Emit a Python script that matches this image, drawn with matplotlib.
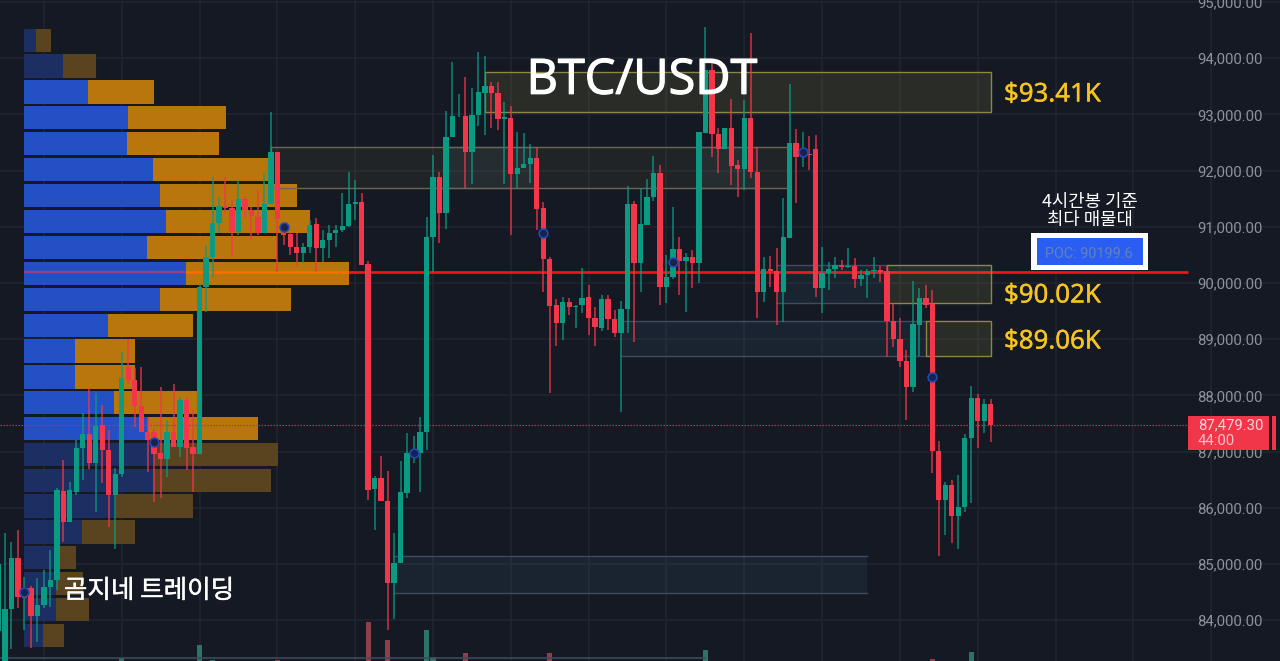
import matplotlib
matplotlib.use("Agg")
import matplotlib.pyplot as plt
from matplotlib.patches import Rectangle
import matplotlib.patheffects as pe

# ---------- candles ----------
opens = [83800,83250,84200,85100,84400,84570,84070,84270,84590,84720,86300,85750,86280,87070,87310,86800,87470,87030,86230,86600,
 88500,88270,87810,87350,87350,86980,86870,87350,87080,87910,87080,86960,89930,90460,91060,91370,91330,90900,91490,91300,
 91180,90890,91410,92330,90900,90870,90640,90530,90640,91050,90620,90770,90890,90940,91010,91410,91440,90340,86340,86530,
 86120,84660,85020,86260,86980,86980,87350,90820,91890,91250,92600,92970,92970,92330,92990,93380,93500,93380,92920,92940,
 91940,92050,92120,92230,91340,90430,89610,89290,89660,89570,89600,89750,89380,89200,89720,89360,89110,89540,91410,90360,
 91030,91530,91950,89930,90110,90600,90390,90460,90360,92670,93790,92650,92380,92750,92100,92030,92940,91980,89840,90250,
 90210,89840,90800,92490,92240,92300,92380,89910,90180,90250,90320,90280,90300,90070,90140,90210,90230,90210,89320,89000,
 88610,88150,89250,89730,89630,87010,86140,86410,85860,86010,87240,87950,87540,87840]
highs = [85900,85550,85400,85600,84770,84600,84750,84890,85250,86350,86850,86460,87210,87680,88130,88040,87830,87380,86700,88770,
 89000,88490,88500,87600,87400,88150,87560,88200,87970,87950,87740,90000,90680,91890,91530,91880,91480,91830,91530,91350,
 91650,91960,93040,92330,91000,90900,90890,90710,91120,91150,90940,91030,91030,91600,91980,91830,91600,90390,86560,86920,
 86650,85550,86830,87330,87280,87620,91170,92280,91970,93060,93930,93360,93670,93470,94110,94040,93580,93580,93220,93150,
 92690,92670,92470,92420,91440,90460,89720,89750,89730,89600,90270,89960,89570,89790,89790,89520,89680,91730,91460,91690,
 91850,92260,92100,90500,91350,90820,90530,90590,90850,94560,93930,92750,92750,93270,92190,93250,94450,92420,90460,90480,
 90620,91510,93550,92740,92690,92620,92630,90640,90370,90460,90410,90620,90440,90230,90250,90460,90300,90320,89640,89380,
 88810,90040,89910,89960,89870,87190,86460,86490,86580,87310,88170,88030,87930,87930]
lows = [83500,83200,83480,84210,83830,83500,83610,84210,84230,84530,85390,85750,86230,86490,86690,85920,86440,85660,85260,86550,
 88200,87440,87350,86640,86100,86170,86550,87080,86900,86670,86280,86960,89480,90110,90890,91250,90460,90850,91150,90770,
 90850,90890,91410,90200,90680,90500,90290,90350,90530,90200,90370,90440,90640,90910,91000,91120,90320,86140,85610,86120,
 83830,84020,85020,86170,86800,86280,87030,90200,90710,90970,92600,92950,91690,91760,92790,92630,92750,92720,91760,90850,
 91690,92050,91780,90950,89840,88040,88880,88990,89430,89200,89470,89070,88880,89150,89160,89040,87710,89110,88950,89840,
 91030,91460,89600,89640,90080,89790,89480,89910,90000,92670,92240,91960,92380,91740,91530,91650,91860,89380,89660,89930,
 89250,89310,90800,91420,92060,92010,89750,89470,89870,90090,90230,90260,89910,89950,89730,90090,90020,88680,88860,88500,
 87560,88060,88700,89550,86620,85140,85510,85370,85260,85920,86090,87060,87330,87170]
closes = [85000,84200,85100,84420,84500,84070,84270,84590,84720,86320,85750,86320,87070,87310,86800,87450,87030,86230,86600,88310,
 88270,87810,87350,87210,86960,86870,87350,87080,87920,87060,86960,89930,90460,91060,91370,91330,90900,91490,91300,91190,
 90890,91410,92330,91140,90850,90640,90530,90640,91030,90620,90770,90890,90940,91010,91410,91440,90320,86320,86530,86120,
 84660,85020,86280,86980,87000,87350,90820,91890,91250,92600,92970,92980,92330,92990,93400,93500,93380,92920,92950,91940,
 92050,92120,92230,91320,90430,89590,89290,89660,89570,89590,89730,89380,89220,89720,89360,89110,89540,91410,90360,91050,
 91530,91950,89930,90110,90600,90390,90460,90360,92690,93790,92650,92380,92750,92080,92030,92940,91980,89840,90250,90220,
 89840,90820,92490,92240,92300,92270,89910,90180,90250,90320,90280,90310,90070,90140,90210,90230,90200,89320,89000,88610,
 88150,89270,89730,89610,87010,86140,86410,85860,86010,87240,87950,87540,87840,87479.3]

# ---------- volume profile ----------
vp_price = [94320,93860,93400,92940,92480,92020,91560,91100,90630,90170,89710,89250,
            88790,88330,87870,87410,86950,86490,86030,85570,85110,84650,84190,83730]
vp_buy =  [12,39,64,104,103,129,136,142,123,162,136,84,51,51,90,124,130,129,92,58,35,32,32,19]
vp_sell = [15,33,66,98,92,119,137,144,130,163,131,85,60,60,83,110,124,118,77,53,17,27,33,21]
vp_faded = [1,1,0,0,0,0,0,0,0,0,0,0,0,0,0,0,1,1,1,1,1,1,1,1]

# ---------- volume histogram ----------
vol_idx =   [19,31,33,43,57,60,66,67,72,85,109,144,150]
vol_vals =  [3,16,1,1,39,21,31,4,8,8,11,2,9]
vol_green = [1,1,1,0,0,0,1,1,0,0,1,0,1]

# ---------- zones: start candle, end candle, top price, bottom price ----------
yellow_zones = [(75,153,93760,93040),(42,122,92420,91690),(137,153,90320,89640),(143,153,89320,88700)]
blue_zones = [(69,83,92420,91690),(108,117,92420,91690),(120,137,90320,89640),(96,143,89320,88700),(61,134,85140,84480)]

# ---------- pivots ----------
pivot_idx = [4,24,44,64,84,104,124,144]
pivot_price = [84500,87170,91000,86980,90890,90370,92330,88320]

price_ticks = [84000,85000,86000,87000,88000,89000,90000,91000,92000,93000,94000,95000]
grid_idx = list(range(7,190,12))
POC = 90199.6
LAST = 87479.3

BG = "#151924"; GREEN = "#0b9b83"; RED = "#f3364a"; GRID = "#21252f"
SP = 6.485
xlim = (1.5/SP, 1281.5/SP)
ylim = (83274, 95036)

fig = plt.figure(figsize=(12.8,6.61), dpi=100, facecolor=BG)
R = [0,0,1,1]

# background: grid and price axis
ax0 = fig.add_axes(R, facecolor=BG, zorder=0)
ax0.set_xlim(*xlim); ax0.set_ylim(*ylim)
ax0.set_xticks(grid_idx); ax0.set_xticklabels([])
ax0.set_yticks(price_ticks)
ax0.set_yticklabels([f"{p:,.2f}" for p in price_ticks])
ax0.yaxis.tick_right()
ax0.tick_params(axis="y", direction="in", length=0, pad=-59.8, labelsize=10.7, labelcolor="#8f929b")
ax0.tick_params(axis="x", length=0)
for t in ax0.get_yticklabels():
    t.set_fontfamily("Roboto")
ax0.grid(True, color=GRID, lw=1.1)
for s in ax0.spines.values(): s.set_visible(False)

# volume histogram
axv = fig.add_axes(R, zorder=1); axv.patch.set_alpha(0)
axv.set_xlim(*xlim); axv.set_ylim(0,661); axv.axis("off")
axv.bar(vol_idx, vol_vals, width=0.8, color=["#2c7468" if g else "#8e3f4c" for g in vol_green])
axv.plot([0.3,109],[3,3], color="#3c4a5c", lw=1.2)

# volume profile
axp = fig.add_axes(R, zorder=2); axp.patch.set_alpha(0)
axp.set_xlim(-24,1256); axp.set_ylim(*ylim); axp.axis("off")
bcol = ["#1c2e62" if f else "#2450c6" for f in vp_faded]
scol = ["#5a431f" if f else "#b8760c" for f in vp_faded]
axp.barh(vp_price, vp_buy, height=415, color=bcol)
axp.barh(vp_price, vp_sell, height=415, left=vp_buy, color=scol)
# POC through the profile row
axp.plot([0,vp_buy[9]],[POC,POC], color="#9a3f86", lw=1.6, solid_capstyle="butt")
axp.plot([vp_buy[9],vp_buy[9]+vp_sell[9]],[POC,POC], color="#ff6a00", lw=2, solid_capstyle="butt")
axp.plot([vp_buy[9]+vp_sell[9],1164],[POC,POC], color="#f2101c", lw=2, solid_capstyle="butt")

# main panel
ax = fig.add_axes(R, zorder=3); ax.patch.set_alpha(0)
ax.set_xlim(*xlim); ax.set_ylim(*ylim); ax.axis("off")
for x0,x1,t,b in blue_zones:
    ax.add_patch(Rectangle((x0,b),x1-x0,t-b, facecolor="#4f8fb8", alpha=0.085, edgecolor="none", zorder=1))
    ax.plot([x0,x1],[t,t], color="#3f4c60", lw=1, zorder=1.1)
    ax.plot([x0,x1],[b,b], color="#3f4c60", lw=1, zorder=1.1)
for i,(x0,x1,t,b) in enumerate(yellow_zones):
    strong = i != 1
    ax.add_patch(Rectangle((x0,b),x1-x0,t-b, facecolor="#c9b84a", alpha=0.12 if strong else 0.07, edgecolor="none", zorder=1))
    ax.add_patch(Rectangle((x0,b),x1-x0,t-b, fill=False, edgecolor="#8f8643" if strong else "#6a6750", lw=1, zorder=1.1))

ax.plot([xlim[0],183.4],[LAST,LAST], color="#a3404f", lw=0.9, ls=(0,(1.2,1.2)), zorder=1.5)

idx = list(range(len(opens)))
col = [GREEN if c>=o else RED for o,c in zip(opens,closes)]
ax.vlines(idx, lows, highs, colors=col, lw=1.1, alpha=0.85, zorder=2)
ax.bar(idx, [abs(c-o) for o,c in zip(opens,closes)], bottom=[min(o,c) for o,c in zip(opens,closes)],
       width=0.82, color=col, zorder=3)
ax.scatter(pivot_idx, pivot_price, s=40, facecolor="#17244a", edgecolor="#2148b4", linewidth=1.2, zorder=4)

# text
KR = ["Noto Sans CJK KR","DejaVu Sans"]
def px(x,y):
    return x/1280, 1-y/661
def fat(c,w=0.5):
    return [pe.withStroke(linewidth=w, foreground=c)]
ov = fig.add_axes(R, zorder=5); ov.patch.set_alpha(0); ov.axis("off"); ov.set_xlim(0,1); ov.set_ylim(0,1)
ov.text(*px(642,81),"BTC/USDT",color="white",family="Open Sans",fontsize=35,ha="center",va="center",path_effects=fat("white",0.9))
for lbl,y in [("$93.41K",95),("$90.02K",296),("$89.06K",342)]:
    ov.text(*px(1004,y),lbl,color="#f6c420",family="Noto Sans",fontsize=18.6,ha="left",va="center",path_effects=fat("#f6c420",0.25))
ov.text(*px(1090,201.5),"4시간봉 기준",color="white",family=KR,fontsize=12.8,ha="center",va="center")
ov.text(*px(1090,220.5),"최다 매물대",color="white",family=KR,fontsize=12.8,ha="center",va="center")
ov.text(*px(149,591),"곰지네 트레이딩",color="white",family=KR,fontsize=18.4,ha="center",va="center",path_effects=fat("white",0.3))
def box(x0,y0,x1,y1,c,**k):
    ov.add_patch(Rectangle((x0/1280,1-y1/661),(x1-x0)/1280,(y1-y0)/661,facecolor=c,edgecolor="none",**k))
box(1031,233,1148,270,"white")
box(1037,238,1143,265,"#2a5ef2")
ov.text(*px(1089,254),f"POC: {POC}",color="#6480bd",family="Roboto",fontsize=10.4,ha="center",va="center")
box(1188,416,1269,450,"#f2364a")
box(1272,416,1276,450,"#f2364a")
ov.text(*px(1198,425),f"{LAST:,.2f}",color="#f3d5d9",family="Roboto",fontsize=10.7,ha="left",va="center")
ov.text(*px(1198,441),"44:00",color="#f3c0c6",family="Roboto",fontsize=10.7,ha="left",va="center")

fig.savefig("out.png", dpi=100, facecolor=BG)
